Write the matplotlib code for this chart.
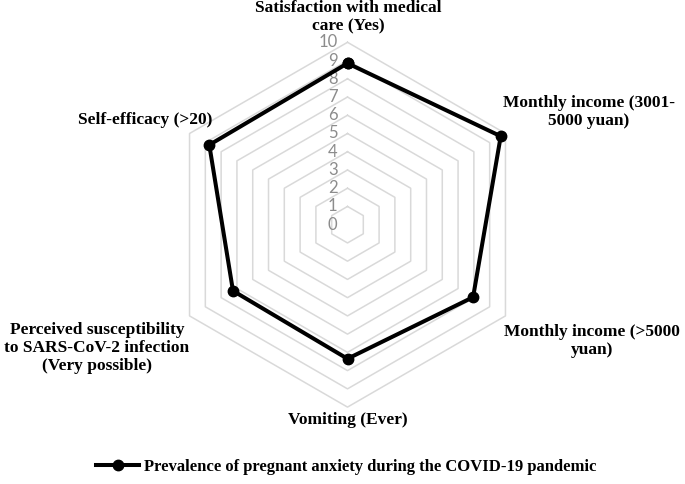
import numpy as np
import matplotlib
matplotlib.use("Agg")
import matplotlib.pyplot as plt
import matplotlib.transforms as mtransforms
from matplotlib.lines import Line2D

categories = ["Satisfaction with medical\ncare (Yes)",
              "Monthly income (3001-\n5000 yuan)",
              "Monthly income (>5000\nyuan)",
              "Vomiting (Ever)",
              "Perceived susceptibility\nto SARS-CoV-2 infection\n(Very possible)",
              "Self-efficacy (>20)"]
values = [8.85, 9.7, 7.95, 7.35, 7.25, 8.75]
ring_levels = list(range(0, 11))
series_name = "Prevalence of pregnant anxiety during the COVID-19 pandemic"

W, H = 685, 484
fig = plt.figure(figsize=(W / 100, H / 100), dpi=100)
cx, cy, R = 347.5, 224.7, 182.4
ax = fig.add_axes([(cx - R) / W, 1 - (cy + R) / H, 2 * R / W, 2 * R / H], projection="polar")
ax.set_theta_zero_location("N")
ax.set_theta_direction(-1)
ax.set_ylim(0, 10)
ax.grid(False)
ax.spines["polar"].set_visible(False)
ax.set_xticks([])
ax.set_yticks([])
ax.patch.set_alpha(0)

n = len(categories)
theta = np.linspace(0, 2 * np.pi, n, endpoint=False)
theta_c = np.append(theta, theta[0])

for lv in ring_levels[1:]:
    ax.plot(theta_c, [lv] * (n + 1), color="#d9d9d9", lw=1.1, zorder=1, clip_on=False)

vals_c = values + values[:1]
ax.plot(theta_c, vals_c, color="black", lw=2.9, marker="o", markersize=7.5, zorder=3, clip_on=False)

shift = ax.transData + mtransforms.ScaledTranslation(-10 / 100, 0, fig.dpi_scale_trans)
for lv in ring_levels:
    ax.text(0, lv, str(lv), transform=shift, ha="right", va="center",
            fontsize=12, color="#8c8c8c", family="Lato", zorder=2)

label_pos = [(348, 17), (589, 112), (592, 341), (348, 420), (97, 348), (145, 120)]
for lab, (x, y) in zip(categories, label_pos):
    fig.text(x / W, 1 - y / H, lab, ha="center", va="center", fontsize=12.5, fontweight="bold",
             family="Liberation Serif", linespacing=1.2)

handle = Line2D([], [], color="black", lw=2.9, marker="o", markersize=7.5)
fig.legend([handle], [series_name], loc="center", bbox_to_anchor=(346 / W, 1 - 467 / H),
           frameon=False, prop={"family": "Liberation Serif", "weight": "bold", "size": 12},
           handlelength=2.6, handletextpad=0.25)

fig.savefig("out.png", dpi=100)
